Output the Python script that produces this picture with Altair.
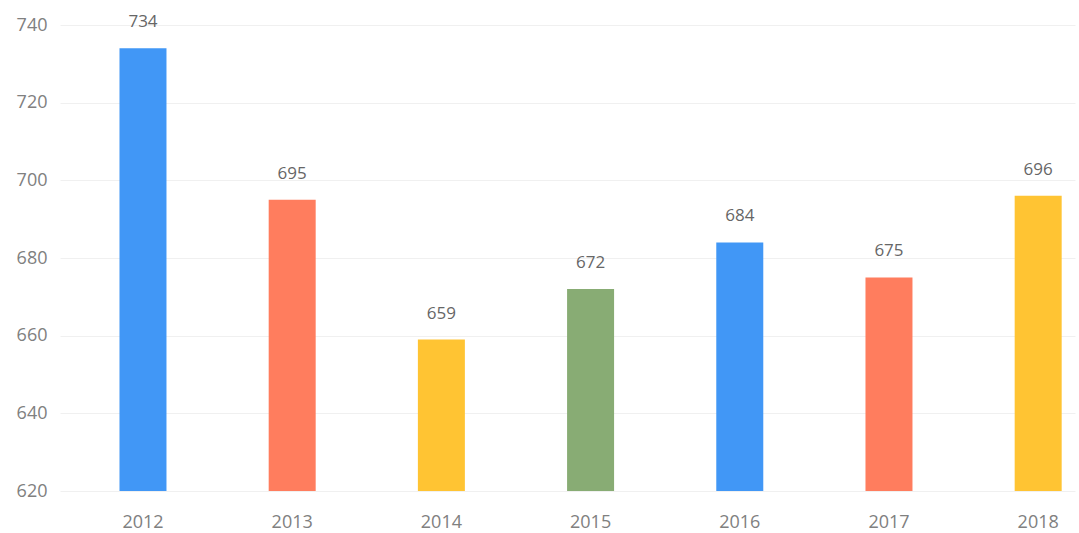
import altair as alt
import pandas as pd

years = ["2012", "2013", "2014", "2015", "2016", "2017", "2018"]
values = [734, 695, 659, 672, 684, 675, 696]
palette = ["#4197f6", "#ff7d5e", "#ffc433", "#88ac74", "#4197f6", "#ff7d5e", "#ffc433"]
y_ticks = [620, 640, 660, 680, 700, 720, 740]

df = pd.DataFrame({"year": years, "value": values})

x = alt.X("year:N", sort=years, title=None,
          scale=alt.Scale(paddingInner=0.685, paddingOuter=0.244, align=0.817),
          axis=alt.Axis(labelAngle=0, labelFontSize=18, labelColor="#808080",
                        labelFont="Open Sans", labelPadding=22, ticks=False,
                        domain=False, grid=False))
y = alt.Y("value:Q", title=None,
          scale=alt.Scale(domain=[620, 740], zero=False, nice=False),
          axis=alt.Axis(values=y_ticks, labelFontSize=18, labelColor="#808080",
                        labelFont="Open Sans", labelPadding=13, ticks=False,
                        domain=False, grid=True, gridColor="#f0f0f0", gridWidth=1))

bars = alt.Chart(df).mark_bar().encode(
    x=x, y=y, y2=alt.datum(620),
    color=alt.Color("year:N", scale=alt.Scale(domain=years, range=palette), legend=None),
)

labels = alt.Chart(df).mark_text(dy=-17, fontSize=17, color="#666666",
                                 font="Open Sans", baseline="bottom").encode(
    x=alt.X("year:N", sort=years), y="value:Q", text="value:Q"
)

chart = (bars + labels).properties(
    width=1015, height=466,
    autosize=alt.AutoSizeParams(type="none"),
    padding={"left": 60, "top": 25, "right": 4, "bottom": 42},
    background="white",
).configure_view(stroke=None)

chart.save("out.html", embed_options={"renderer": "svg", "actions": False})
